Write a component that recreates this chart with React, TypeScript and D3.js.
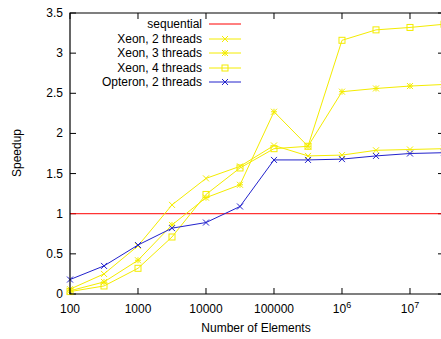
import React from "react";
import * as d3 from "d3";

const elements = [100, 316.23, 1000, 3162.3, 10000, 31623, 100000, 316230, 1000000, 3162300, 10000000, 31623000];
const xeon2 = [0.06, 0.25, 0.6, 1.11, 1.44, 1.59, 1.85, 1.72, 1.73, 1.79, 1.8, 1.81];
const xeon3 = [0.04, 0.15, 0.42, 0.86, 1.2, 1.36, 2.27, 1.84, 2.52, 2.56, 2.59, 2.61];
const xeon4 = [0.03, 0.1, 0.32, 0.71, 1.24, 1.57, 1.81, 1.84, 3.16, 3.29, 3.32, 3.36];
const opteron = [0.18, 0.35, 0.61, 0.82, 0.89, 1.09, 1.67, 1.67, 1.68, 1.72, 1.75, 1.76];
const sequential = 1;
const xTicks = [100, 1000, 10000, 100000, 1000000, 10000000];
const yTicks = [0, 0.5, 1, 1.5, 2, 2.5, 3, 3.5];

const series = [
  { name: "Xeon, 2 threads", values: xeon2, color: "#f4ec00", marker: "x" },
  { name: "Xeon, 3 threads", values: xeon3, color: "#f4ec00", marker: "star" },
  { name: "Xeon, 4 threads", values: xeon4, color: "#f4ec00", marker: "square" },
  { name: "Opteron, 2 threads", values: opteron, color: "#2222cc", marker: "x" },
];

const W = 441, H = 339;
const left = 70, right = 444, top = 13, bottom = 294;
const font = "Liberation Sans, Arial, sans-serif";
const fs = 12;

function Marker({ x, y, type, color }: { x: number; y: number; type: string; color: string }) {
  const s = 3;
  if (type === "square") {
    return <rect x={x - s} y={y - s} width={2 * s} height={2 * s} fill="none" stroke={color} strokeWidth={1} />;
  }
  const xs = (
    <path d={`M${x - s},${y - s}L${x + s},${y + s}M${x - s},${y + s}L${x + s},${y - s}`} stroke={color} strokeWidth={1} />
  );
  if (type === "star") {
    return (
      <g>
        {xs}
        <path d={`M${x - s},${y}L${x + s},${y}M${x},${y - s}L${x},${y + s}`} stroke={color} strokeWidth={1} />
      </g>
    );
  }
  return xs;
}

function tickLabel(v: number) {
  const e = Math.round(Math.log10(v));
  if (e >= 6) {
    return (
      <>
        10<tspan dy={-5} fontSize={9}>{e}</tspan>
      </>
    );
  }
  return String(v);
}

export default function App() {
  const x = d3.scaleLog().domain([100, 31623000]).range([left, right]);
  const y = d3.scaleLinear().domain([0, 3.5]).range([bottom, top]);
  const line = d3
    .line<number>()
    .x((_, i) => x(elements[i]))
    .y((d) => y(d));

  const legendY = [24, 39, 53, 68, 82];
  const legendItems = [
    { name: "sequential", color: "#ff0000", marker: "" },
    ...series.map((s) => ({ name: s.name, color: s.color, marker: s.marker })),
  ];

  return (
    <svg width={W} height={H} style={{ position: "absolute", left: 0, top: 0, display: "block" }} fontFamily={font}>
      <rect x={0} y={0} width={W} height={H} fill="#fff" />
      {yTicks.map((t) => (
        <g key={"y" + t}>
          <line x1={left} x2={left + 6} y1={y(t)} y2={y(t)} stroke="#000" />
          <line x1={right - 6} x2={right} y1={y(t)} y2={y(t)} stroke="#000" />
          <text x={left - 7} y={y(t) + 4} fontSize={fs} textAnchor="end" fill="#000">
            {t}
          </text>
        </g>
      ))}
      {xTicks.map((t) => (
        <g key={"x" + t}>
          <line x1={x(t)} x2={x(t)} y1={bottom} y2={bottom - 6} stroke="#000" />
          <line x1={x(t)} x2={x(t)} y1={top} y2={top + 6} stroke="#000" />
          <text x={x(t)} y={bottom + 19} fontSize={fs} textAnchor="middle" fill="#000">
            {tickLabel(t)}
          </text>
        </g>
      ))}
      <text x={256} y={332} fontSize={fs} textAnchor="middle" fill="#000">
        Number of Elements
      </text>
      <text transform={`translate(21,153) rotate(-90)`} fontSize={fs} textAnchor="middle" fill="#000">
        Speedup
      </text>
      <line x1={left} x2={right} y1={y(sequential)} y2={y(sequential)} stroke="#ff0000" strokeWidth={1} />
      {series.map((s) => (
        <g key={s.name}>
          <path d={line(s.values) || ""} fill="none" stroke={s.color} strokeWidth={1} />
          {s.values.map((v, i) => (
            <Marker key={i} x={x(elements[i])} y={y(v)} type={s.marker} color={s.color} />
          ))}
        </g>
      ))}
      {legendItems.map((it, i) => (
        <g key={it.name}>
          <text x={202} y={legendY[i] + 4} fontSize={fs} textAnchor="end" fill="#000">
            {it.name}
          </text>
          <line x1={209} x2={241} y1={legendY[i]} y2={legendY[i]} stroke={it.color} strokeWidth={1} />
          {it.marker && <Marker x={225} y={legendY[i]} type={it.marker} color={it.color} />}
        </g>
      ))}
      <path d={`M${right},${top}H${left}V${bottom}H${right}`} fill="none" stroke="#000" strokeWidth={1.2} />
    </svg>
  );
}
